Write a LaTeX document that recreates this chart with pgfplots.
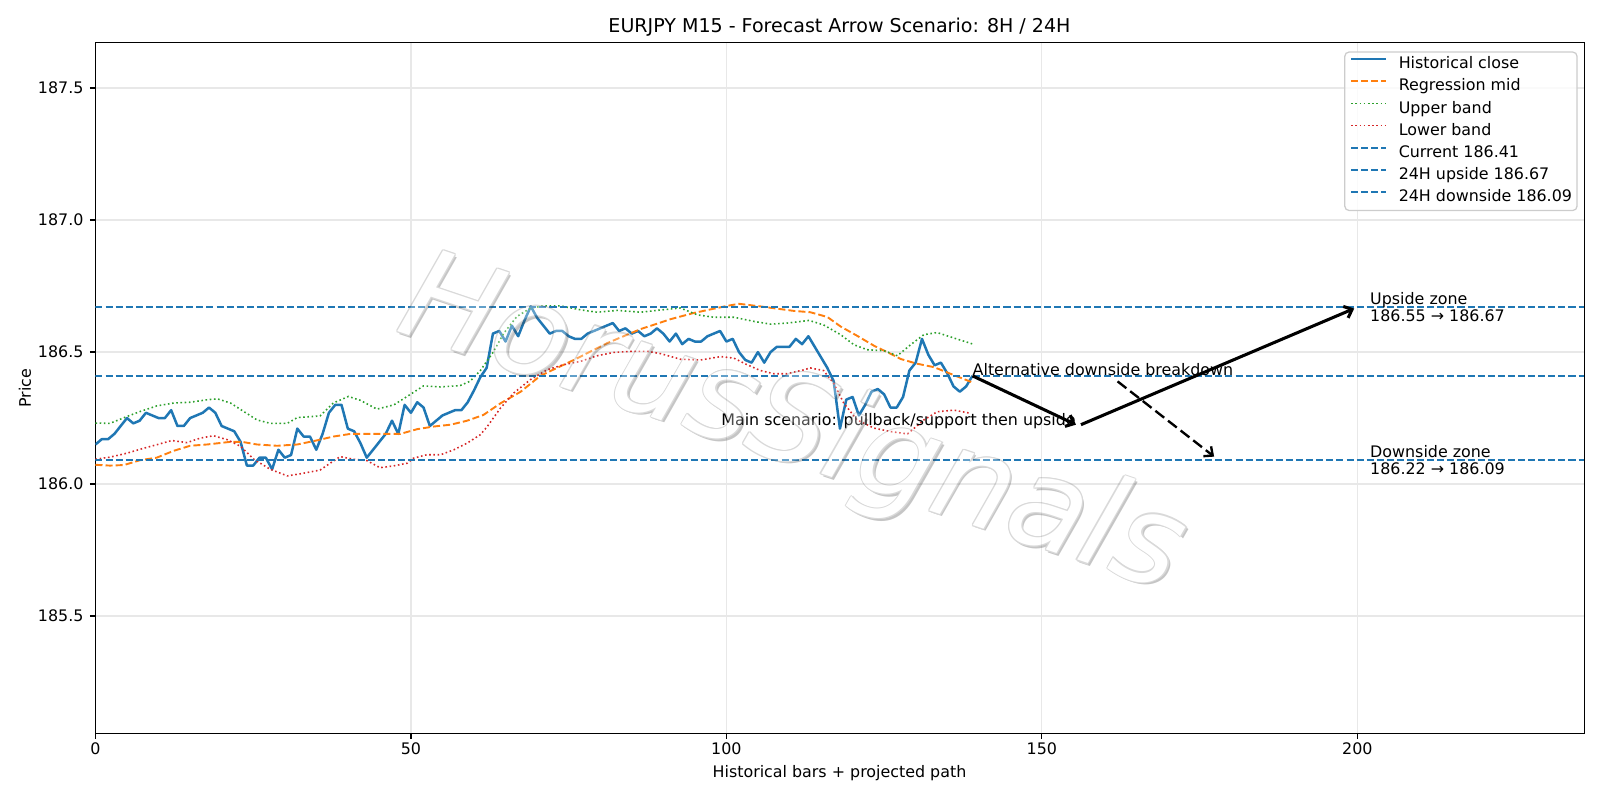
\documentclass[border=0pt]{standalone}
\usepackage{fontspec}
\setmainfont{DejaVu Sans}
\usepackage{pgfplots}
\pgfplotsset{compat=1.18}
\usetikzlibrary{arrows.meta}

\definecolor{tabblue}{RGB}{31,119,180}
\definecolor{taborange}{RGB}{255,127,14}
\definecolor{tabgreen}{RGB}{44,160,44}
\definecolor{tabred}{RGB}{214,39,40}
\definecolor{gridgray}{RGB}{232,232,232}
\definecolor{legframe}{RGB}{204,204,204}

\newcommand{\basefont}{\fontsize{11.43bp}{13.7bp}\selectfont}

\begin{document}
\begin{tikzpicture}[x=0.01in,y=0.01in]
\useasboundingbox (0,0) rectangle (1600,800);
\begin{axis}[
  at={(0.954in,0.667in)}, anchor=south west,
  width=14.882in, height=6.904in, scale only axis,
  xmin=0, xmax=236, ymin=185.056, ymax=187.673,
  xtick={0,50,100,150,200},
  ytick={185.5,186.0,186.5,187.0,187.5},
  xtick pos=bottom, ytick pos=left,
  tick align=outside,
  major tick length=0.0556in,
  every tick/.style={black, line width=0.91bp},
  axis line style={line width=0.91bp},
  grid=major,
  major grid style={gridgray, line width=0.91bp},
  tick label style={font=\basefont},
  xticklabel style={anchor=base, inner sep=0pt, yshift=-0.213in+0.0556in},
  yticklabel style={anchor=east, inner sep=0pt, xshift=-0.117in+0.0556in,
    /pgf/number format/.cd, fixed, fixed zerofill, precision=1, assume math mode=true},
  xticklabel style={/pgf/number format/assume math mode=true},
  scaled y ticks=false,
  legend cell align=left,
  legend image code/.code={\draw[#1] (0in,0.058in) -- (0.347in,0.058in);},
  legend style={
    at={(0.9954,0.987)}, anchor=north east,
    draw=legframe, line width=0.91bp, rounded corners=3bp,
    fill=white, fill opacity=0.8, draw opacity=1, text opacity=1,
    font=\basefont,
    inner xsep=0.05in, inner ysep=0.018in,
    row sep=0pt, column sep=0.117in,
    nodes={inner xsep=0pt, inner ysep=0.035in, text height=0.115in, text depth=0.036in},
  },
]

% historical closes
\addplot[tabblue, line width=1.8bp, line join=round] coordinates {
(0,186.15) (1,186.17) (2,186.17) (3,186.19) (4,186.22) (5,186.25) (6,186.23) (7,186.24)
(8,186.27) (9,186.26) (10,186.25) (11,186.25) (12,186.28) (13,186.22) (14,186.22) (15,186.25)
(16,186.26) (17,186.27) (18,186.29) (19,186.27) (20,186.22) (21,186.21) (22,186.20) (23,186.16)
(24,186.07) (25,186.07) (26,186.10) (27,186.10) (28,186.056) (29,186.13) (30,186.10) (31,186.11)
(32,186.21) (33,186.18) (34,186.18) (35,186.13) (36,186.19) (37,186.27) (38,186.30) (39,186.30)
(40,186.21) (41,186.20) (42,186.155) (43,186.10) (44,186.13) (45,186.16) (46,186.19) (47,186.24)
(48,186.19) (49,186.30) (50,186.27) (51,186.31) (52,186.29) (53,186.22) (54,186.24) (55,186.26)
(56,186.27) (57,186.28) (58,186.28) (59,186.31) (60,186.355) (61,186.405) (62,186.44) (63,186.57)
(64,186.58) (65,186.54) (66,186.60) (67,186.56) (68,186.62) (69,186.673) (70,186.63) (71,186.60)
(72,186.57) (73,186.58) (74,186.58) (75,186.56) (76,186.55) (77,186.55) (78,186.57) (79,186.58)
(80,186.59) (81,186.60) (82,186.61) (83,186.58) (84,186.59) (85,186.57) (86,186.58) (87,186.56)
(88,186.57) (89,186.59) (90,186.57) (91,186.54) (92,186.57) (93,186.53) (94,186.55) (95,186.54)
(96,186.54) (97,186.56) (98,186.57) (99,186.58) (100,186.54) (101,186.55) (102,186.50) (103,186.47)
(104,186.46) (105,186.50) (106,186.46) (107,186.50) (108,186.52) (109,186.52) (110,186.52) (111,186.55)
(112,186.53) (113,186.56) (114,186.52) (115,186.48) (116,186.44) (117,186.39) (118,186.21) (119,186.32)
(120,186.33) (121,186.26) (122,186.30) (123,186.35) (124,186.36) (125,186.34) (126,186.29) (127,186.29)
(128,186.33) (129,186.43) (130,186.46) (131,186.55) (132,186.49) (133,186.45) (134,186.46) (135,186.42)
(136,186.37) (137,186.35) (138,186.37) (139,186.41)
};
\addlegendentry{Historical close}

% regression midline
\addplot[taborange, line width=1.37bp, dash pattern=on 5.07bp off 2.19bp] coordinates {
(0,186.073) (2.3,186.07) (4.5,186.072) (7,186.09) (9.7,186.10) (12.4,186.126) (15,186.145)
(17.7,186.15) (21.4,186.16) (23.2,186.16) (25.6,186.15) (28.8,186.145) (32,186.15) (35,186.165)
(37.7,186.18) (40.4,186.19) (43,186.19) (45.7,186.19) (48.3,186.19) (51,186.208) (53.6,186.218)
(56.3,186.225) (58.9,186.24) (61.5,186.262) (64.2,186.306) (67.4,186.35) (70.5,186.41) (75.8,186.47)
(81.1,186.534) (86.4,186.587) (91.2,186.625) (94.8,186.648) (100.1,186.675) (102,186.683)
(105.4,186.673) (110.7,186.656) (113.3,186.651) (116,186.633) (118.1,186.597) (120.7,186.562)
(123.4,186.524) (126,186.494) (127.6,186.474) (130.2,186.456) (132.9,186.443) (135.5,186.418)
(139,186.385)
};
\addlegendentry{Regression mid}

% upper channel band
\addplot[tabgreen, line width=1.14bp, dash pattern=on 1.14bp off 1.89bp] coordinates {
(0,186.231) (2.3,186.23) (5,186.256) (7.1,186.275) (9.7,186.296) (12.4,186.307) (15,186.31)
(17.6,186.319) (19.3,186.323) (21.4,186.307) (23.5,186.275) (25.6,186.243) (27.7,186.23)
(30.4,186.23) (32,186.252) (35.6,186.258) (37.7,186.307) (40.1,186.332) (42,186.317) (44.6,186.284)
(47.3,186.30) (49.4,186.332) (52,186.372) (54.7,186.368) (57.8,186.373) (59.4,186.39) (61,186.43)
(63.1,186.502) (64.7,186.571) (66.8,186.635) (69,186.667) (71.1,186.675) (73.7,186.675) (76.9,186.66)
(79.5,186.651) (82.7,186.658) (86.4,186.651) (89,186.658) (92.7,186.667) (95.4,186.641) (98,186.632)
(101.2,186.632) (104.4,186.616) (107,186.606) (109.7,186.61) (113.1,186.62) (115.4,186.603)
(118.1,186.566) (120.2,186.528) (122.3,186.509) (125,186.505) (127.1,186.486) (129.2,186.528)
(131.3,186.566) (133.4,186.574) (136.1,186.553) (139,186.531)
};
\addlegendentry{Upper band}

% lower channel band
\addplot[tabred, line width=1.14bp, dash pattern=on 1.14bp off 1.89bp] coordinates {
(0,186.094) (2.3,186.102) (5,186.117) (7.1,186.132) (9.7,186.149) (12.1,186.165) (14.5,186.157)
(16.6,186.174) (18.7,186.183) (20.9,186.168) (23,186.143) (25.1,186.094) (27.7,186.056) (30.4,186.031)
(32.5,186.039) (35.6,186.053) (37.2,186.079) (38.8,186.104) (40.9,186.094) (43,186.089) (45.1,186.062)
(47.3,186.069) (49.4,186.079) (50.4,186.098) (52.5,186.111) (54.7,186.111) (56.8,186.13) (58.9,186.155)
(61,186.187) (62.1,186.218) (64.2,186.288) (66.3,186.345) (68.9,186.395) (71.6,186.433) (74.2,186.452)
(76.9,186.465) (79.5,186.486) (82.2,186.499) (85.3,186.503) (87.5,186.503) (89.6,186.494) (92.7,186.473)
(95.9,186.47) (99.1,186.483) (101.2,186.477) (103.3,186.452) (105.4,186.43) (107.5,186.418)
(109.6,186.418) (112.3,186.433) (113.3,186.44) (115.4,186.43) (117,186.382) (118.6,186.307)
(120.7,186.243) (123.4,186.212) (126,186.199) (128.7,186.19) (131.3,186.243) (133.4,186.274)
(136.1,186.28) (138.7,186.268)
};
\addlegendentry{Lower band}

% reference levels
\addplot[tabblue, line width=1.37bp, dash pattern=on 5.07bp off 2.19bp] coordinates {(0,186.41) (236,186.41)};
\addlegendentry{Current 186.41}
\addplot[tabblue, line width=1.37bp, dash pattern=on 5.07bp off 2.19bp] coordinates {(0,186.67) (236,186.67)};
\addlegendentry{24H upside 186.67}
\addplot[tabblue, line width=1.37bp, dash pattern=on 5.07bp off 2.19bp] coordinates {(0,186.09) (236,186.09)};
\addlegendentry{24H downside 186.09}

% scenario annotations
\node[anchor=base west, inner sep=0pt, font=\basefont] at (axis cs:139,186.413) {Alternative downside breakdown};
\node[anchor=base east, inner sep=0pt, font=\basefont] at (axis cs:155.4,186.221) {Main scenario: pullback/support then upside};
\node[anchor=west, inner sep=0pt, align=left, font=\fontsize{11.43bp}{11.9bp}\selectfont] at (axis cs:202,186.67) {Upside zone\\186.55 → 186.67};
\node[anchor=west, inner sep=0pt, align=left, font=\fontsize{11.43bp}{11.9bp}\selectfont] at (axis cs:202,186.09) {Downside zone\\186.22 → 186.09};

\draw[black, line width=2.2bp, -{Straight Barb[length=5bp, width=9bp]}]
  (axis cs:139,186.41) -- (axis cs:155.4,186.225);
\draw[black, line width=2.2bp, -{Straight Barb[length=5bp, width=9bp]}]
  (axis cs:156.2,186.225) -- (axis cs:199.5,186.665);
\draw[black, line width=1.7bp, dash pattern=on 8bp off 3.5bp, -{Straight Barb[length=5bp, width=9bp]}]
  (axis cs:162,186.389) -- (axis cs:177.3,186.104);
\end{axis}

% titles and axis labels
\node[anchor=base, inner sep=0pt, font=\fontsize{13.71bp}{16bp}\selectfont] at (839.5,767.6) {EURJPY M15 - Forecast Arrow Scenario: 8H / 24H};
\node[anchor=base, inner sep=0pt, font=\basefont] at (839.5,22.8) {Historical bars + projected path};
\node[anchor=base, inner sep=0pt, rotate=90, font=\basefont] at (31,412) {Price};

% watermark
\begin{scope}[transparency group, opacity=0.3]
  \tikzset{wm/.style={rotate=-18.6, inner sep=0pt, font=\fontsize{90bp}{100bp}\selectfont\itshape}}
  \node[wm, text=black!75] at (794.5,369.5) {HorusSignals};
  \foreach \dx/\dy in {1.1/0,-1.1/0,0/1.1,0/-1.1,0.8/0.8,-0.8/0.8,0.8/-0.8,-0.8/-0.8}
    \node[wm, text=black!50] at (792+\dx,372+\dy) {HorusSignals};
  \node[wm, text=white] at (792,372) {HorusSignals};
\end{scope}
\end{tikzpicture}
\end{document}
